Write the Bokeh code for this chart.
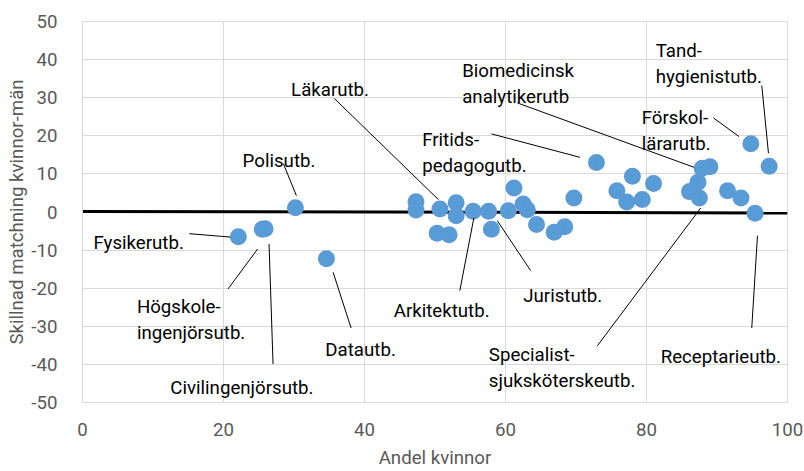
from bokeh.plotting import figure
from bokeh.models import FixedTicker, Range1d
from bokeh.core.properties import value
from bokeh.embed import file_html
from bokeh.resources import INLINE

# ---- data ----
andel_kvinnor = [22.1, 25.5, 25.9, 30.2, 34.6, 47.3, 47.3, 50.7, 50.3, 52.0,
                 53.0, 53.0, 55.4, 57.6, 58.0, 60.4, 61.2, 62.5, 63.1, 64.4,
                 66.9, 68.4, 69.7, 72.9, 75.8, 77.2, 78.0, 79.4, 81.0, 86.1,
                 87.3, 87.5, 87.9, 89.0, 91.5, 93.4, 94.8, 95.4, 97.4]
skillnad = [-6.5, -4.5, -4.4, 1.1, -12.3, 2.7, 0.5, 0.8, -5.6, -6.0,
            2.4, -1.0, 0.2, 0.2, -4.5, 0.35, 6.3, 2.1, 0.6, -3.3,
            -5.3, -3.85, 3.7, 13.0, 5.6, 2.6, 9.4, 3.3, 7.5, 5.35,
            7.8, 3.7, 11.5, 11.9, 5.6, 3.7, 17.9, -0.35, 12.0]

trend_x = [0, 100]
trend_y = [0.15, -0.25]

x_ticks = [0, 20, 40, 60, 80, 100]
x_tick_labels = ["0", "20", "40", "60", "80", "100"]
y_ticks = [-50, -40, -30, -20, -10, 0, 10, 20, 30, 40, 50]
y_tick_labels = ["-50", "-40", "-30", "-20", "-10", "0", "10", "20", "30", "40", "50"]

x_title = "Andel kvinnor"
y_title = "Skillnad matchning kvinnor-män"

label_names = ["Polisutb.", "Läkarutb.", "Fysikerutb.", "Högskole-\ningenjörsutb.",
               "Civilingenjörsutb.", "Datautb.", "Arkitektutb.", "Juristutb.",
               "Specialist-\nsjuksköterskeutb.", "Receptarieutb.", "Fritids-\npedagogutb.",
               "Biomedicinsk\nanalytikerutb", "Förskol-\nlärarutb.", "Tand-\nhygienistutb."]

# ---- annotation layout (label anchor = left/baseline of first line) ----
label_x = [22.71, 29.59, 1.56, 7.72, 12.45, 34.45, 44.15, 62.52, 57.64, 82.01, 48.18, 53.86, 79.32, 81.30]
label_y = [13.49, 32.14, -8.21, -25.02, -46.22, -36.24, -26.07, -22.13, -37.47, -38.0, 18.93, 36.97, 24.63, 42.20]
leader_x0 = [28.49, 35.73, 15.15, 20.64, 27.03, 38.10, 53.52, 63.57, 73.03, 94.93, 58.02, 61.67, 89.49, 96.35]
leader_y0 = [12.70, 29.77, -5.69, -20.21, -39.91, -30.46, -20.66, -15.39, -35.11, -30.46, 20.50, 28.64, 24.70, 33.19]
leader_x1 = [30.34, 50.49, 20.97, 24.84, 26.46, 35.55, 55.51, 58.83, 87.69, 95.74, 70.56, 86.74, 93.13, 97.30]
leader_y1 = [4.29, 3.24, -6.58, -9.71, -8.39, -15.85, -1.56, -2.27, 1.06, -6.21, 14.35, 11.73, 19.79, 15.41]

W, H = 804, 471
BL, BR, BT, BB = 82, 17, 21, 69
FONT = "Roboto"
FS = "18.67px"
GRID = "#d9d9d9"
AX = "#595959"

p = figure(width=W, height=H, x_range=Range1d(0, 100), y_range=Range1d(-50, 50),
           output_backend="svg", toolbar_location=None,
           min_border_left=BL, min_border_right=BR, min_border_top=BT, min_border_bottom=BB)
p.background_fill_color = "white"
p.border_fill_color = "white"
p.outline_line_color = GRID

p.xaxis.ticker = FixedTicker(ticks=x_ticks)
p.yaxis.ticker = FixedTicker(ticks=y_ticks)
p.xaxis.major_label_overrides = {t: l for t, l in zip(x_ticks, x_tick_labels)}
p.yaxis.major_label_overrides = {t: l for t, l in zip(y_ticks, y_tick_labels)}
p.xgrid.ticker = FixedTicker(ticks=x_ticks)
p.ygrid.ticker = FixedTicker(ticks=y_ticks)
for g in (p.xgrid, p.ygrid):
    g.grid_line_color = GRID
    g.grid_line_width = 1

for ax in (p.xaxis, p.yaxis):
    ax.major_tick_line_color = None
    ax.minor_tick_line_color = None
    ax.axis_line_color = GRID
    ax.major_label_text_font = FONT
    ax.major_label_text_font_size = FS
    ax.major_label_text_color = AX
    ax.axis_label_text_font = FONT
    ax.axis_label_text_font_size = FS
    ax.axis_label_text_color = AX
    ax.axis_label_text_font_style = "normal"

p.xaxis.axis_label = x_title
p.yaxis.axis_label = y_title
p.xaxis.major_label_standoff = 14
p.xaxis.axis_label_standoff = 8
p.yaxis.major_label_standoff = 19
p.yaxis.axis_label_standoff = 0

# trend / zero line
p.line(trend_x, trend_y, line_color="black", line_width=3)

# points
p.scatter(andel_kvinnor, skillnad, size=17, fill_color="#5B9BD5", line_color=None)
p.scatter(andel_kvinnor, skillnad, size=2, fill_color="#19aef0", line_color=None)

# leader lines
p.segment(leader_x0, leader_y0, leader_x1, leader_y1, line_color="black", line_width=1)

# labels (each line separately)
frame_h = H - BT - BB
step = 26 * 100.0 / frame_h
tx, ty, tt = [], [], []
for name, x, y in zip(label_names, label_x, label_y):
    for i, line in enumerate(name.split("\n")):
        tx.append(x)
        ty.append(y - i * step)
        tt.append(line)
p.text(x=tx, y=ty, text=tt, text_font=value(FONT), text_font_size=value(FS),
       text_color="black", text_align="left", text_baseline="alphabetic")

open("out.html", "w").write(file_html(p, INLINE))
